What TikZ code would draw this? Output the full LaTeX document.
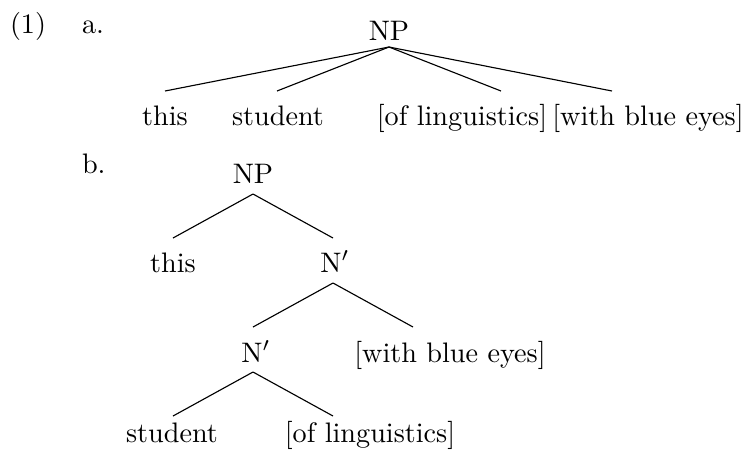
\documentclass[tikz,border=0pt]{standalone}
\usetikzlibrary{calc}
\begin{document}
\begin{tikzpicture}[x=0.3546pt,y=-0.3546pt,
  lbl/.style={inner sep=0pt,outer sep=0pt,anchor=base},
  branch/.style={line width=0.4pt}]
\useasboundingbox (0,0) rectangle (746,457);

% example number and sub-labels
\node[lbl,anchor=base west] (num) at (10,33) {(1)};
\node[lbl,anchor=base west] (la) at (82,33) {a.};
\node[lbl,anchor=base west] (lb) at (82,173) {b.};

% (a) flat structure
\node[lbl] (anp) at (389,40) {NP};
\node[lbl] (athis) at (165,125) {this};
\node[lbl] (astud) at (278,125) {student};
\node[lbl] (aling) at (462,125) {[of linguistics]};
\node[lbl] (aeyes) at (648,125) {[with blue eyes]};

\draw[branch] ($(anp.base)+(0,7)$) -- ($(athis.base)+(0,-34)$);
\draw[branch] ($(anp.base)+(0,7)$) -- ($(astud.base)+(-1,-34)$);
\draw[branch] ($(anp.base)+(0,7)$) -- ($(aling.base)+(39,-34)$);
\draw[branch] ($(anp.base)+(0,7)$) -- ($(aeyes.base)+(-36,-34)$);

% (b) nested structure
\node[lbl] (bnp) at (253,183) {NP};
\node[lbl] (bthis) at (173,272) {this};
\node[lbl] (bn1) at (335,272) {N$'$};
\node[lbl] (bn2) at (256,362) {N$'$};
\node[lbl] (beyes) at (450,362) {[with blue eyes]};
\node[lbl] (bstud) at (172,442) {student};
\node[lbl] (bling) at (370,442) {[of linguistics]};

\draw[branch] ($(bnp.base)+(0,11)$) -- ($(bthis.base)+(0,-34)$);
\draw[branch] ($(bnp.base)+(0,11)$) -- ($(bn1.base)+(-2,-34)$);
\draw[branch] ($(bn1.base)+(-2,11)$) -- ($(bn2.base)+(-3,-35)$);
\draw[branch] ($(bn1.base)+(-2,11)$) -- ($(beyes.base)+(-37,-35)$);
\draw[branch] ($(bn2.base)+(-3,10)$) -- ($(bstud.base)+(1,-26)$);
\draw[branch] ($(bn2.base)+(-3,10)$) -- ($(bling.base)+(-37,-26)$);
\end{tikzpicture}
\end{document}
